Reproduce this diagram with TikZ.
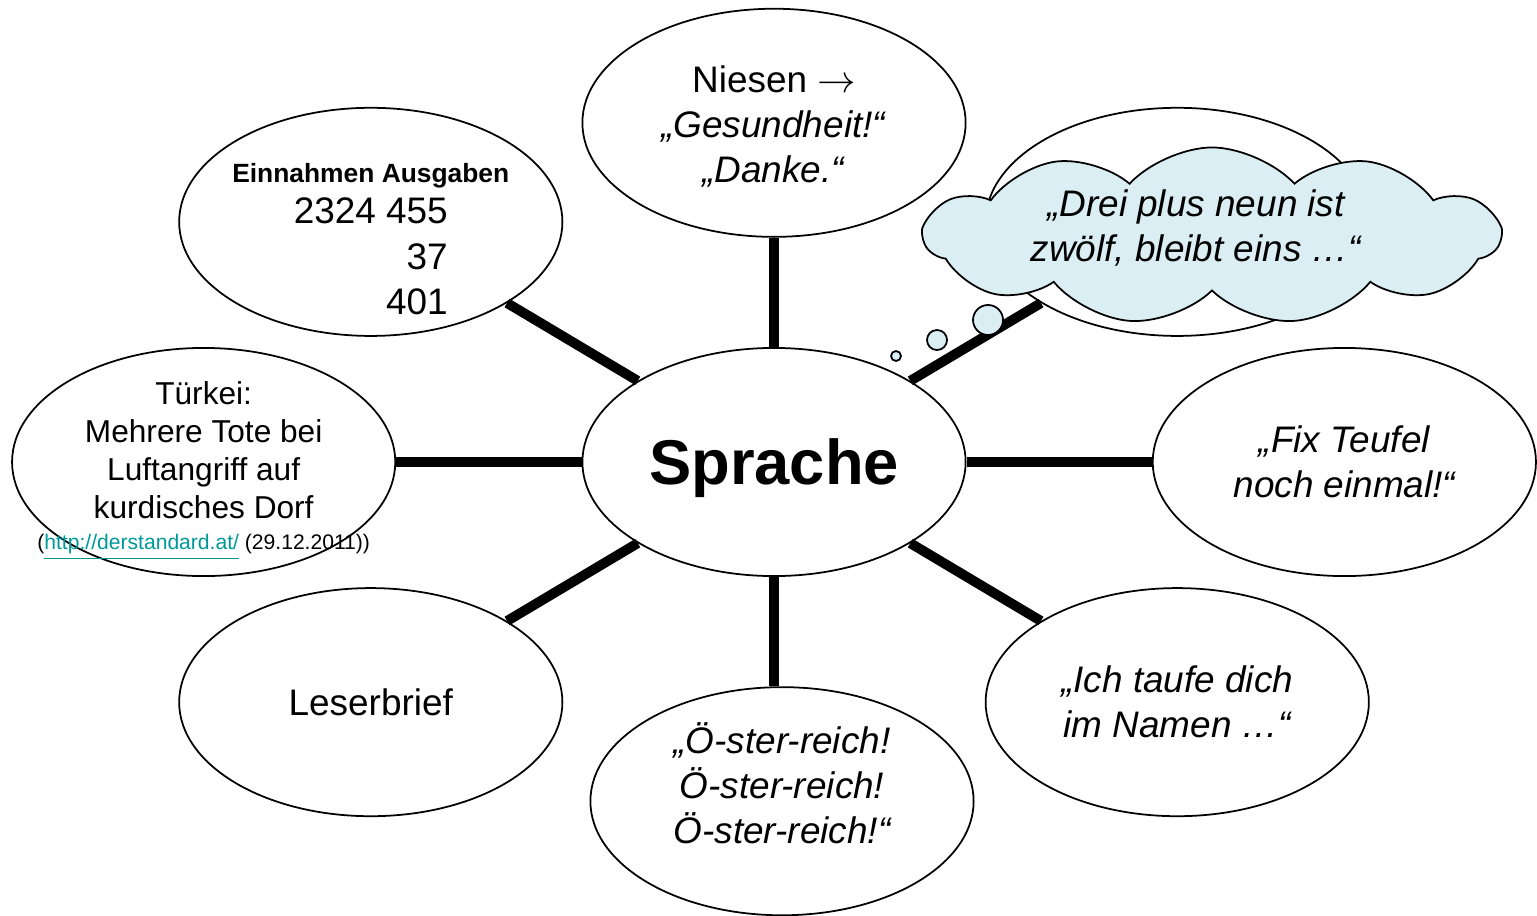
\documentclass[tikz,border=0pt]{standalone}
\usepackage{fontspec}
\setmainfont{Liberation Sans}
\usetikzlibrary{shapes.geometric,shapes.symbols}
\definecolor{wolkenblau}{RGB}{218,238,243}
\definecolor{urlcol}{RGB}{0,153,153}
\tikzset{
  blase/.style={ellipse,draw,line width=0.5pt,minimum width=3.83cm,minimum height=2.28cm,
    inner sep=0pt,align=center,font=\fontsize{10.5}{12.8}\selectfont},
  txt/.style={align=center,inner sep=0pt,font=\fontsize{10.5}{12.8}\selectfont},
  speiche/.style={line width=2.8pt},
  wolke/.style={cloud,draw,line width=0.5pt,fill=wolkenblau,cloud puffs=11,cloud puff arc=95,
    cloud ignores aspect,minimum width=5.75cm,minimum height=1.77cm,inner sep=0pt},
  perle/.style={circle,draw,line width=0.5pt,fill=wolkenblau,inner sep=0pt}
}
\begin{document}
\begin{tikzpicture}[x=0.01cm,y=-0.01cm,node distance=1cm]
      \useasboundingbox (0,0) rectangle (1537,915);
      \node[blase,font=\fontsize{18}{22}\selectfont\bfseries,text depth=0pt] (sprache) at (774,462) {Sprache};
      \node[blase,above of=sprache,node distance=3.39cm] (niesen) {};
      \node[blase,left of=sprache,node distance=4.03cm,yshift=2.4cm] (einnahmen) {};
      \node[blase,right of=sprache,node distance=4.03cm,yshift=2.4cm] (rechtsoben) {};
      \node[blase,left of=sprache,node distance=5.7cm] (tuerkei) {};
      \node[blase,right of=sprache,node distance=5.7cm,font=\fontsize{10.5}{12.8}\selectfont\itshape] (teufel) {„Fix Teufel\\ noch einmal!“};
      \node[blase,left of=sprache,node distance=4.03cm,yshift=-2.4cm] (leser) {Leserbrief};
      \node[blase,right of=sprache,node distance=4.03cm,yshift=-2.4cm,font=\fontsize{10.5}{12.8}\selectfont\itshape] (taufe) {„Ich taufe dich\\ im Namen …“};
      \node[blase,below of=sprache,node distance=3.39cm,xshift=0.08cm] (oesterreich) {};

      \node[txt] (niesentext) at ([yshift=-0.04cm]niesen.center) {Niesen $\rightarrow$\\ \textit{„Gesundheit!“}\\ \textit{„Danke.“}};
      \node[txt] (einnahmentext) at ([yshift=-0.17cm]einnahmen.center) {{\fontsize{7.5}{9}\selectfont\bfseries Einnahmen Ausgaben}\\[-1pt]
        2324 455\\ \phantom{2324 4}37\\ \phantom{2324 }401};
      \node[txt,font=\fontsize{9}{10.8}\selectfont] (tuerkeitext) at ([yshift=-0.09cm]tuerkei.center) {Türkei:\\ Mehrere Tote bei\\ Luftangriff auf\\ kurdisches Dorf\\[-2pt]
        {\fontsize{6}{7}\selectfont(\textcolor{urlcol}{\underline{http://derstandard.at/}} (29.12.2011))}};
      \node[txt,font=\fontsize{10.5}{12.8}\selectfont\itshape] (oesterreichtext) at ([yshift=0.18cm]oesterreich.center) {„Ö-ster-reich!\\ Ö-ster-reich!\\ Ö-ster-reich!“};

      \draw[speiche] (sprache) -- (niesen);
      \draw[speiche] (sprache) -- (einnahmen);
      \draw[speiche] (sprache) -- (rechtsoben);
      \draw[speiche] (sprache) -- (tuerkei);
      \draw[speiche] (sprache) -- (teufel);
      \draw[speiche] (sprache) -- (leser);
      \draw[speiche] (sprache) -- (taufe);
      \draw[speiche] (sprache) -- (sprache |- oesterreich.north);

      \node[wolke] (gedanke) at (1212,236) {};
      \node[txt,font=\fontsize{10.5}{12.8}\selectfont\itshape] (gedankentext) at ([xshift=-0.16cm,yshift=0.08cm]gedanke.center) {„Drei plus neun ist\\ zwölf, bleibt eins …“};
      \node[perle,minimum size=0.3cm] (perle1) at (988,320) {};
      \node[perle,minimum size=0.2cm] (perle2) at (937,340) {};
      \node[perle,minimum size=0.1cm] (perle3) at (896,356) {};
    \end{tikzpicture}
\end{document}
